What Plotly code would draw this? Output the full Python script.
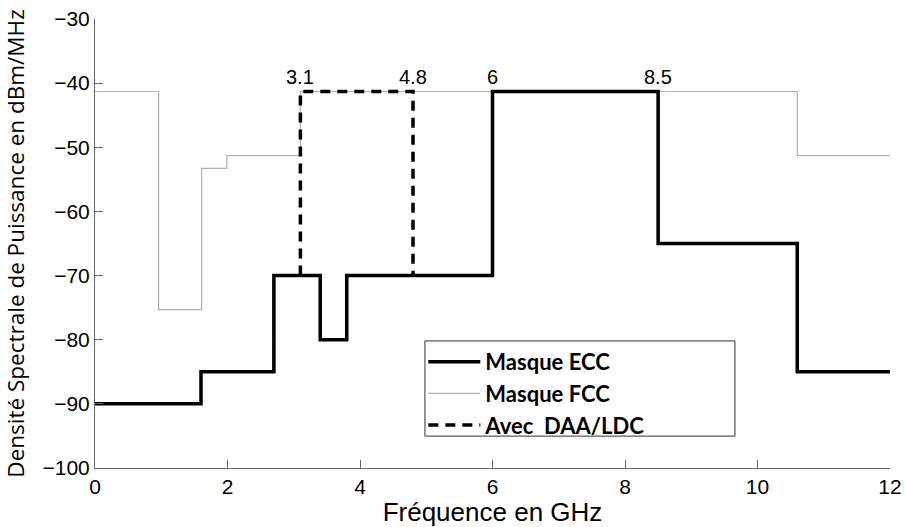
import plotly.graph_objects as go

# FCC indoor mask (step, value holds until next breakpoint)
fcc_f = [0, 0.96, 1.61, 1.99, 3.1, 10.6, 12]
fcc_p = [-41.3, -75.3, -53.3, -51.3, -41.3, -51.3, -51.3]

# ECC mask
ecc_f = [0, 1.6, 2.7, 3.4, 3.8, 6, 8.5, 10.6, 12]
ecc_p = [-90, -85, -70, -80, -70, -41.3, -65, -85, -85]

# with DAA/LDC
daa_f = [3.1, 3.1, 4.8, 4.8]
daa_p = [-70, -41.3, -41.3, -70]

band_labels = ['3.1', '4.8', '6', '8.5']
band_f = [3.1, 4.8, 6, 8.5]
band_p = [-41.3, -41.3, -41.3, -41.3]

helv = 'Liberation Sans, Arial, Helvetica, sans-serif'

fig = go.Figure()
fig.add_trace(go.Scatter(x=fcc_f, y=fcc_p, mode='lines', line_shape='hv',
                         line=dict(color='#b0b0b0', width=1.2),
                         name='Masque FCC', legendrank=2))
fig.add_trace(go.Scatter(x=ecc_f, y=ecc_p, mode='lines', line_shape='hv',
                         line=dict(color='black', width=3.5),
                         name='Masque ECC', legendrank=1))
fig.add_trace(go.Scatter(x=daa_f, y=daa_p, mode='lines',
                         line=dict(color='black', width=3.5, dash='10px,7px'),
                         name='Avec  DAA/LDC', legendrank=3))

for lab, f, p in zip(band_labels, band_f, band_p):
    fig.add_annotation(x=f, y=p, text=lab, showarrow=False, yanchor='bottom',
                       yshift=1, font=dict(family=helv, size=20, color='black'))

# legend frame (wider than the entries, as in the original)
fig.add_shape(type='rect', xref='paper', yref='paper',
              x0=0.415, x1=0.805, y0=0.071, y1=0.283,
              fillcolor='white', line=dict(color='#333333', width=1), layer='above')

axis_common = dict(showline=True, linecolor='#666666', linewidth=1, ticks='inside',
                   ticklen=8, tickcolor='#666666', showgrid=False, zeroline=False,
                   automargin=False, ticklabeloverflow='allow',
                   tickfont=dict(family=helv, size=21, color='black'))

fig.update_layout(
    width=906, height=527,
    margin=dict(l=95, r=16, t=19, b=59),
    plot_bgcolor='white', paper_bgcolor='white',
    xaxis=dict(range=[0, 12], tickvals=[0, 2, 4, 6, 8, 10, 12],
               title=dict(text='Fréquence en GHz', standoff=2,
                          font=dict(family=helv, size=26, color='black')),
               **axis_common),
    yaxis=dict(range=[-100, -30], tickvals=[-100, -90, -80, -70, -60, -50, -40, -30],
               ticktext=['−100', '−90', '−80', '−70', '−60', '−50', '−40', '−30'],
               title=dict(text='Densité Spectrale de Puissance en dBm/MHz', standoff=24,
                          font=dict(family='Open Sans', size=22.5, color='black')),
               **axis_common),
    legend=dict(x=0.413, y=0.283, xanchor='left', yanchor='top',
                bgcolor='rgba(0,0,0,0)', borderwidth=0,
                font=dict(family='Lato', size=22, color='black', weight='bold'),
                traceorder='normal', tracegroupgap=0,
                itemwidth=52),
    showlegend=True,
)

# drop the default page margin so the figure sits at the window corner
fig.write_html("out.html", config={'displayModeBar': False},
               post_script="document.body.style.margin='0';")
